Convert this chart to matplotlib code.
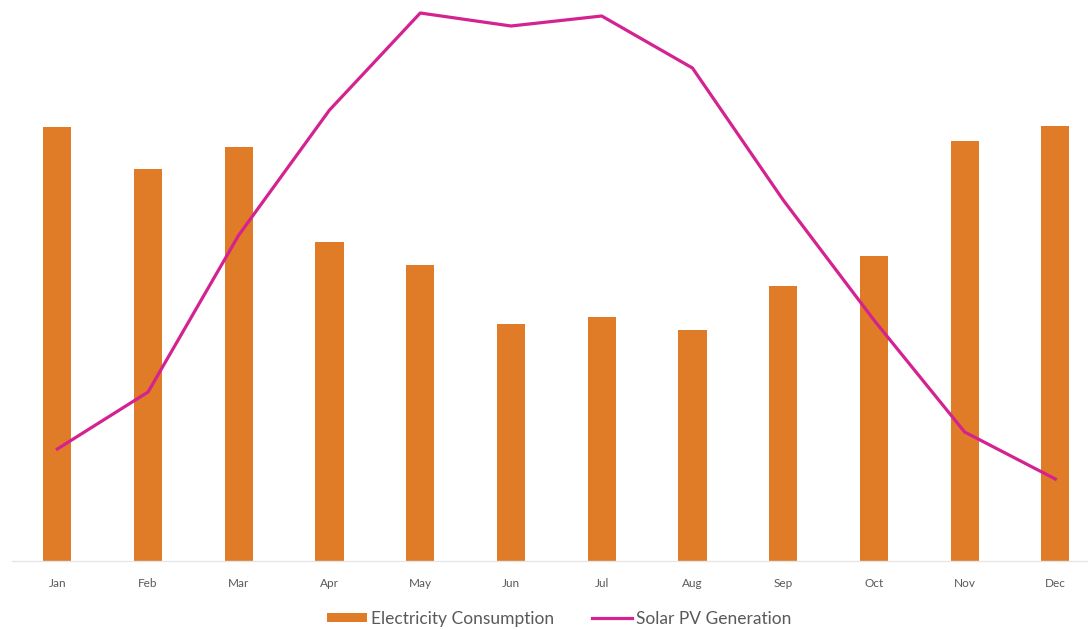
import matplotlib
matplotlib.use('Agg')
import numpy as np
from matplotlib import pyplot as plt

months = ['Jan', 'Feb', 'Mar', 'Apr', 'May', 'Jun', 'Jul', 'Aug', 'Sep', 'Oct', 'Nov', 'Dec']
consumption = [434, 392, 414, 319, 296, 237, 244, 231, 275, 305, 420, 435]
solar_pv = [112, 169, 326, 451, 548, 535, 545, 493, 361, 241, 129, 82]

plt.rcParams['font.family'] = ['Lato', 'DejaVu Sans']

fig = plt.figure(figsize=(10.88, 6.3), dpi=100)
ax = fig.add_axes([12/1088, 69/630, 1 - 12/1088, 561/630])

x = np.arange(len(months))
bars = ax.bar(x, consumption, width=0.31, color='#E07B28', label='Electricity Consumption', zorder=2)
line, = ax.plot(x, solar_pv, color='#D42290', lw=2.3, label='Solar PV Generation', zorder=3)

ax.set_xlim(-0.5, 11.36)
ax.set_ylim(0, 561)
ax.set_yticks([])
ax.set_xticks(x)
ax.set_xticklabels(months, fontsize=8.5, color='#595959')
ax.tick_params(axis='x', length=0, pad=12)
for s in ['top', 'right', 'left']:
    ax.spines[s].set_visible(False)
ax.spines['bottom'].set_color('#E6E6E6')
ax.spines['bottom'].set_linewidth(1)

leg = fig.legend([bars, line], ['Electricity Consumption', 'Solar PV Generation'],
                 loc='center', bbox_to_anchor=(0.514, 0.018), ncol=2, frameon=False,
                 fontsize=12.5, handlelength=2.3, handleheight=0.5, handletextpad=0.2,
                 columnspacing=2.2)
for t in leg.get_texts():
    t.set_color('#595959')

fig.savefig('out.png', dpi=100)
